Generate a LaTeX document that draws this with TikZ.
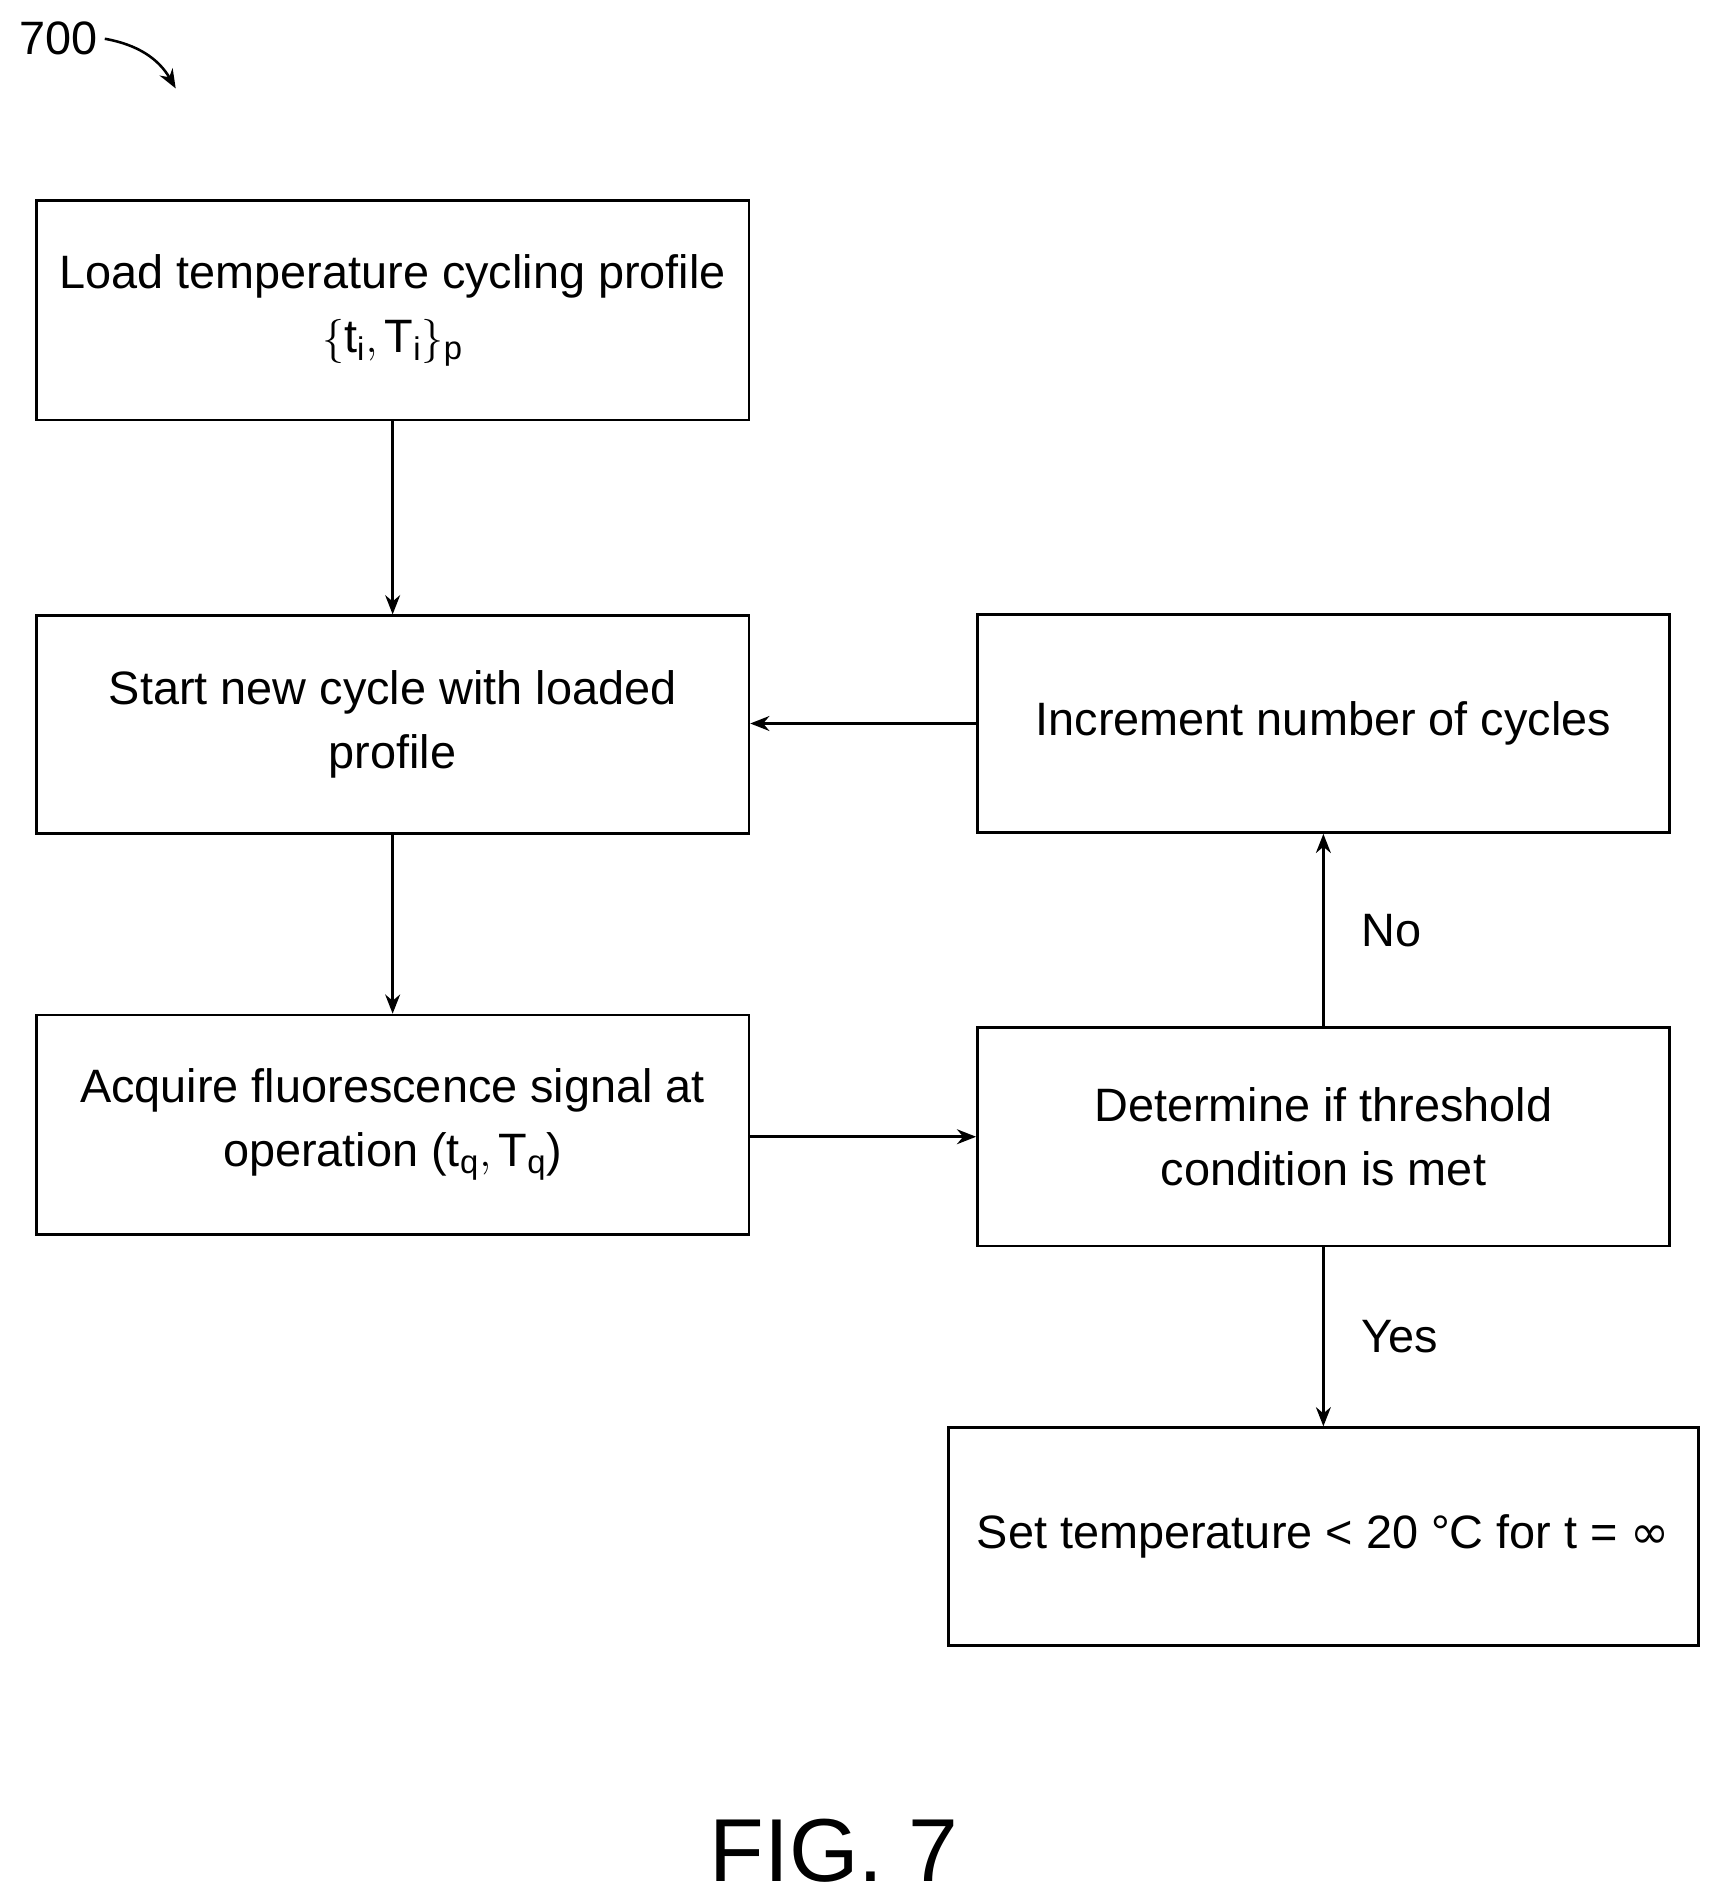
\documentclass[tikz,border=0pt]{standalone}
\usepackage{fontspec}
\setmainfont{Liberation Sans}
\usetikzlibrary{arrows.meta}
\begin{document}
\begin{tikzpicture}[x=0.02cm,y=-0.02cm]
\tikzset{
  procbox/.style={draw=black,line width=1.2pt,inner sep=0pt,align=center,
    font=\fontsize{22}{30}\selectfont},
  flow/.style={-{Stealth[length=9pt,width=7pt]},line width=1.2pt}
}
\useasboundingbox (0,0) rectangle (1420,1567);
% boxes
\node [procbox,minimum width=588*0.02cm,minimum height=181*0.02cm] (load) at (324,256) {Load temperature cycling profile\\$\{\mathrm{t_i},\mathrm{T_i}\}_\mathrm{p}$};
\node [procbox,minimum width=588*0.02cm,minimum height=180*0.02cm] (start) at (324,598) {Start new cycle with loaded\\profile};
\node [procbox,minimum width=588*0.02cm,minimum height=181*0.02cm] (acq) at (324,928) {Acquire fluorescence signal at\\operation ($\mathrm{t_q},\mathrm{T_q}$)};
\node [procbox,minimum width=571*0.02cm,minimum height=180*0.02cm] (inc) at (1092,597) {Increment number of cycles};
\node [procbox,minimum width=571*0.02cm,minimum height=180*0.02cm] (det) at (1092,938) {Determine if threshold\\condition is met};
\node [procbox,minimum width=619*0.02cm,minimum height=180*0.02cm] (set) at (1092,1268) {Set temperature < 20 °C for t = {\fontspec{DejaVu Sans}∞}};
% connectors
\draw [flow] (load) -- (start);
\draw [flow] (start) -- (acq);
\draw [flow] (acq.east |- det) -- (det);
\draw [flow] (det) -- node [right=14pt,font=\fontsize{22}{26}\selectfont] {No} (inc);
\draw [flow] (det) -- node [right=14pt,font=\fontsize{22}{26}\selectfont] {Yes} (set);
\draw [flow] (inc) -- (inc -| start.east);
% label
\node [font=\fontsize{22}{26}\selectfont] (num) at (48,32) {700};
\coordinate (numend) at (145,73);
\draw [flow] (num.east) to [bend left=25] (numend);
\node [font=\fontsize{42}{48}\selectfont] (fig) at (688,1527) {FIG. 7};
\end{tikzpicture}
\end{document}
